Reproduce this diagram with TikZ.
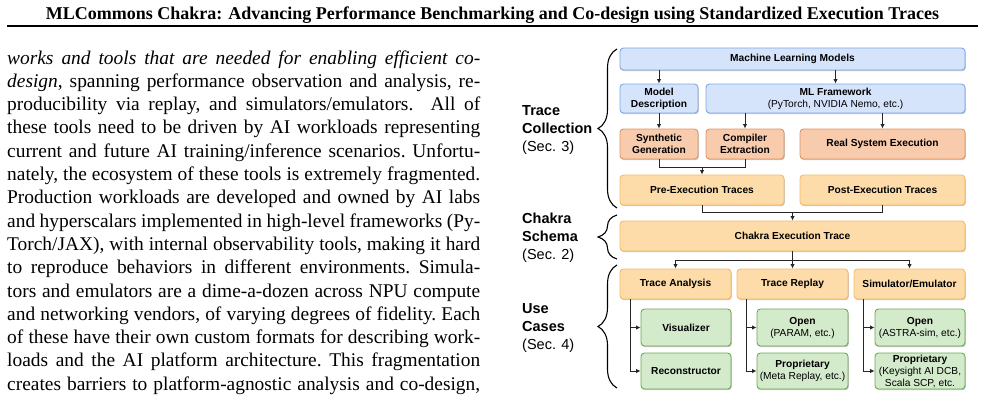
\documentclass[tikz,border=0pt]{standalone}
\usepackage{fontspec}
\setmainfont{Liberation Serif}
\setsansfont{Liberation Sans}
\usetikzlibrary{arrows.meta,shadows,decorations.pathreplacing,calc}
\definecolor{blueF}{HTML}{D6E4FB}
\definecolor{blueD}{HTML}{7EA8E8}
\definecolor{salF}{HTML}{F8CBAD}
\definecolor{salD}{HTML}{E0955F}
\definecolor{orF}{HTML}{FEDCAA}
\definecolor{orD}{HTML}{F5BA66}
\definecolor{grF}{HTML}{D3EACB}
\definecolor{grD}{HTML}{6FA854}
\tikzset{
 box/.style={draw, rounded corners=3.5pt, line width=0.9pt, align=center, inner sep=1pt,
   font=\sffamily\bfseries\fontsize{10.2}{12}\selectfont,
   drop shadow={shadow xshift=0.8pt, shadow yshift=-1.2pt, opacity=0.22, fill=black}},
 bluebox/.style={box, fill=blueF, draw=blueD},
 salbox/.style={box, fill=salF, draw=salD},
 orbox/.style={box, fill=orF, draw=orD},
 grbox/.style={box, fill=grF, draw=grD},
 conn/.style={line width=0.9pt, draw=black!85},
 arr/.style={conn, -{Latex[length=4.5pt,width=4.5pt]}},
 bracestyle/.style={decorate, decoration={brace, amplitude=19pt}, line width=1.1pt},
 sect/.style={font=\sffamily\fontsize{14.5}{17.8}\selectfont, align=left, anchor=west, inner sep=0pt},
 bodyline/.style={anchor=base west, inner sep=0pt, font=\fontsize{19.4}{23}\selectfont\frenchspacing},
}
\newcommand{\bl}[1]{\makebox[473pt][s]{#1}}
\begin{document}
\begin{tikzpicture}[x=1pt,y=-1pt]
\useasboundingbox (0,0) rectangle (985,410);
% title
\node[anchor=base, inner sep=0pt, font=\bfseries\fontsize{18}{20}\selectfont] (title) at (492.5,19)
 {MLCommons Chakra: Advancing Performance Benchmarking and Co-design using Standardized Execution Traces};
\draw[line width=2pt] (7,25.5) -- (978,25.5);
% body text
\node[bodyline] (l1) at (7,64.0) {\bl{\itshape works and tools that are needed for enabling efficient co-}};
\node[bodyline] (l2) at (7,87.3) {\bl{\textit{design}, spanning performance observation and analysis, re-}};
\node[bodyline] (l3) at (7,110.6) {\bl{producibility via replay, and simulators/emulators.\ \ All of}};
\node[bodyline] (l4) at (7,133.9) {\bl{these tools need to be driven by AI workloads representing}};
\node[bodyline] (l5) at (7,157.2) {\bl{current and future AI training/inference scenarios. Unfortu-}};
\node[bodyline] (l6) at (7,180.5) {\bl{nately, the ecosystem of these tools is extremely fragmented.}};
\node[bodyline] (l7) at (7,203.8) {\bl{Production workloads are developed and owned by AI labs}};
\node[bodyline] (l8) at (7,227.1) {\bl{and hyperscalars implemented in high-level frameworks (Py-}};
\node[bodyline] (l9) at (7,250.4) {\bl{Torch/JAX), with internal observability tools, making it hard}};
\node[bodyline] (l10) at (7,273.7) {\bl{to reproduce behaviors in different environments. Simula-}};
\node[bodyline] (l11) at (7,297.0) {\bl{tors and emulators are a dime-a-dozen across NPU compute}};
\node[bodyline] (l12) at (7,320.3) {\bl{and networking vendors, of varying degrees of fidelity. Each}};
\node[bodyline] (l13) at (7,343.6) {\bl{of these have their own custom formats for describing work-}};
\node[bodyline] (l14) at (7,366.9) {\bl{loads and the AI platform architecture. This fragmentation}};
\node[bodyline] (l15) at (7,390.2) {\bl{creates barriers to platform-agnostic analysis and co-design,}};
% section labels
\node[sect] (s1) at (522,130) {\textbf{Trace}\\\textbf{Collection}\\(Sec. 3)};
\node[sect] (s2) at (522,238) {\textbf{Chakra}\\\textbf{Schema}\\(Sec. 2)};
\node[sect] (s3) at (522,328) {\textbf{Use}\\\textbf{Cases}\\(Sec. 4)};
\draw[bracestyle] (617,208) -- (617,49);
\draw[bracestyle] (617,259) -- (617,215);
\draw[bracestyle] (617,388) -- (617,265);
% boxes
\node[bluebox, minimum width=345, minimum height=22] (mlm) at (792.5,59) {Machine Learning Models};
\node[bluebox, minimum width=78, minimum height=29] (md) at (659,98.5) {Model\\Description};
\node[bluebox, minimum width=259, minimum height=29] (mlf) at (835.5,98.5) {ML Framework\\{\mdseries (PyTorch, NVIDIA Nemo, etc.)}};
\node[salbox, minimum width=78, minimum height=30] (syn) at (659,144) {Synthetic\\Generation};
\node[salbox, minimum width=78, minimum height=30] (comp) at (745,144) {Compiler\\Extraction};
\node[salbox, minimum width=165, minimum height=30] (real) at (882.5,144) {Real System Execution};
\node[orbox, minimum width=164, minimum height=30] (pre) at (702,190) {Pre-Execution Traces};
\node[orbox, minimum width=165, minimum height=30] (post) at (882.5,190) {Post-Execution Traces};
\node[orbox, minimum width=345, minimum height=30] (chak) at (792.5,236) {Chakra Execution Trace};
\node[orbox, minimum width=111, minimum height=30] (ta) at (675.5,284) {Trace Analysis};
\node[orbox, minimum width=111, minimum height=30] (tr) at (792.5,284) {Trace Replay};
\node[orbox, minimum width=111, minimum height=30] (se) at (909.5,284) {Simulator/Emulator};
\node[grbox, minimum width=90, minimum height=37] (vis) at (686,327.5) {Visualizer};
\node[grbox, minimum width=90, minimum height=36] (rec) at (686,371) {Reconstructor};
\node[grbox, minimum width=91, minimum height=37] (op1) at (802.5,327.5) {Open\\{\mdseries (PARAM, etc.)}};
\node[grbox, minimum width=91, minimum height=36] (pr1) at (802.5,371) {Proprietary\\{\mdseries (Meta Replay, etc.)}};
\node[grbox, minimum width=90, minimum height=37] (op2) at (920,327.5) {Open\\{\mdseries (ASTRA-sim, etc.)}};
\node[grbox, minimum width=90, minimum height=36] (pr2) at (920,371) {Proprietary\\{\mdseries (Keysight AI DCB,}\\{\mdseries Scala SCP, etc.}};
% connectors
\draw[arr] (mlm.south -| md.north) -- (md.north);
\draw[arr] (mlm.south -| mlf.north) -- (mlf.north);
\draw[arr] (md.south) -- (syn.north);
\draw[arr] (mlf.south -| comp.north) -- (comp.north);
\draw[arr] (mlf.south -| real.north) -- (real.north);
\coordinate (j1) at (702,167);
\draw[conn] (syn.south) |- (j1);
\draw[conn] (comp.south) |- (j1);
\draw[arr] (j1) -- (pre.north);
\coordinate (j2) at (792.5,212.5);
\draw[conn] (pre.south) |- (j2);
\draw[conn] (post.south) |- (j2);
\draw[arr] (j2) -- (chak.north);
\coordinate (j3) at (792.5,260);
\draw[conn] (chak.south) -- (j3);
\draw[arr] (j3) -| (ta.north);
\draw[arr] (j3) -| (se.north);
\draw[arr] (j3) -- (tr.north);
\coordinate (t1) at ($(ta.south west)+(11,0)$);
\coordinate (t2) at ($(tr.south west)+(10,0)$);
\coordinate (t3) at ($(se.south west)+(10,0)$);
\draw[arr] (t1) |- (vis.west);
\draw[arr] (t1) |- (rec.west);
\draw[arr] (t2) |- (op1.west);
\draw[arr] (t2) |- (pr1.west);
\draw[arr] (t3) |- (op2.west);
\draw[arr] (t3) |- (pr2.west);
\end{tikzpicture}
\end{document}
